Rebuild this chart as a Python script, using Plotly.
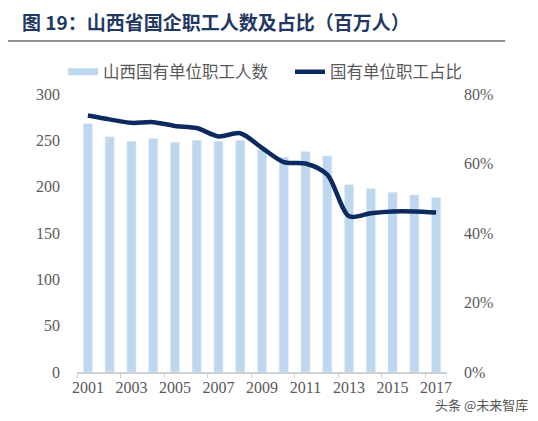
import plotly.graph_objects as go

years = list(range(2001, 2018))
workers = [268, 254, 249, 252, 248, 250, 249, 250, 240, 232, 238, 233, 202, 198, 194, 191, 188]
share = [73.8, 72.7, 71.7, 71.9, 70.8, 70.2, 67.8, 68.7, 64.5, 60.4, 60.0, 56.8, 44.8, 45.7, 46.2, 46.2, 45.9]
left_ticks = [0, 50, 100, 150, 200, 250, 300]
right_ticks = [0, 20, 40, 60, 80]
x_labels = [2001, 2003, 2005, 2007, 2009, 2011, 2013, 2015, 2017]

bar_color = "#bdd7ee"
line_color = "#0c2a5f"
tick_color = "#595959"
serif = "Liberation Serif"
cjk = "Noto Sans CJK SC"

fig = go.Figure()
fig.add_trace(go.Bar(x=years, y=workers, marker_color=bar_color, showlegend=False,
                     name="山西国有单位职工人数", yaxis="y"))
fig.add_trace(go.Scatter(x=years, y=share, mode="lines", yaxis="y2",
                         line=dict(color=line_color, width=4.5, shape="spline", smoothing=0.8),
                         showlegend=False, name="国有单位职工占比"))
# legend entries
fig.add_trace(go.Scatter(x=[None], y=[None], mode="lines", name="山西国有单位职工人数",
                         line=dict(color=bar_color, width=7), legend="legend"))
fig.add_trace(go.Scatter(x=[None], y=[None], mode="lines", name="国有单位职工占比", yaxis="y2",
                         line=dict(color=line_color, width=4.5), legend="legend2"))
# boundary ticks axis
bounds = [y - 0.5 for y in years[::2]]
fig.add_trace(go.Scatter(x=bounds, y=[None] * len(bounds), xaxis="x2", showlegend=False,
                         hoverinfo="skip"))

W, H = 538, 421
L, R, T, B = 77, 91, 94, 49
pw, ph = W - L - R, H - T - B

def px(x):
    return (x - L) / pw

def py(y):
    return (H - B - y) / ph

leg_common = dict(orientation="h", xanchor="left", y=py(72), yanchor="middle",
                  font=dict(family=cjk, size=16.5, color=tick_color),
                  bgcolor="rgba(0,0,0,0)")

fig.update_layout(
    width=W, height=H,
    margin=dict(l=L, r=R, t=T, b=B),
    paper_bgcolor="white", plot_bgcolor="white",
    bargap=0.58,
    xaxis=dict(range=[2000.5, 2017.5], tickvals=x_labels, ticks="", showgrid=False,
               showline=True, linecolor="#d0d0d0", linewidth=1.5,
               tickfont=dict(family=serif, size=16, color=tick_color), zeroline=False),
    xaxis2=dict(range=[2000.5, 2017.5], overlaying="x", anchor="y", side="bottom",
                tickvals=bounds, ticks="outside", ticklen=5, tickcolor="#d0d0d0",
                showticklabels=False, showgrid=False, showline=False, zeroline=False),
    yaxis=dict(range=[0, 300], tickvals=left_ticks, showgrid=False, zeroline=False,
               showline=False, ticks="", ticklabelstandoff=16,
               tickfont=dict(family=serif, size=16, color=tick_color)),
    yaxis2=dict(range=[0, 80], tickvals=right_ticks, ticktext=[f"{v}%" for v in right_ticks],
                overlaying="y", side="right", showgrid=False, zeroline=False, showline=False,
                ticks="", ticklabelstandoff=16,
                tickfont=dict(family=serif, size=16, color=tick_color)),
    legend=dict(x=px(63), **leg_common),
    legend2=dict(x=px(290), **leg_common),
    showlegend=True,
    font=dict(family=cjk),
)

fig.add_annotation(text="<b>图 19：山西省国企职工人数及占比（百万人）</b>", xref="paper", yref="paper",
                   x=px(20), y=py(21), xanchor="left", yanchor="middle", showarrow=False,
                   font=dict(family=cjk, size=19, color="#1f3864"))
fig.add_shape(type="line", xref="paper", yref="paper", x0=px(8), x1=px(505), y0=py(41), y1=py(41),
              line=dict(color="#222222", width=1.2))
fig.add_annotation(text="头条 @未来智库", xref="paper", yref="paper", x=px(530), y=py(404),
                   xanchor="right", yanchor="middle", showarrow=False,
                   font=dict(family=cjk, size=13, color="#555555"))

fig.write_html("out.html")
